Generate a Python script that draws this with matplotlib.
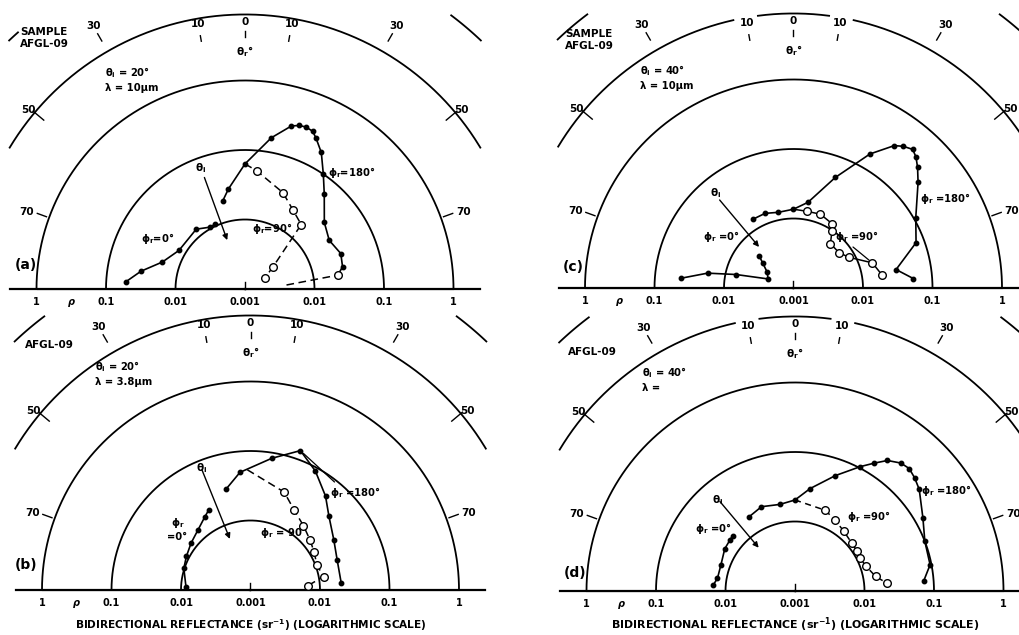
import numpy as np
import matplotlib
matplotlib.use("Agg")
import matplotlib.pyplot as plt

plt.rcParams['font.family'] = ['DejaVu Sans']
plt.rcParams['font.weight'] = 'bold'
plt.rcParams['mathtext.fontset'] = 'dejavusans'
plt.rcParams['mathtext.default'] = 'bf'

# ---------------- data (theta_r in degrees, left side = phi_r 0 ; rho in sr^-1) ----------------
ANGLE_TICKS = [-70, -50, -30, -10, 0, 10, 30, 50, 70]
ANGLE_LABELS = ['70', '50', '30', '10', '0', '10', '30', '50', '70']
RING_VALUES = [0.01, 0.1, 1.0]
SCALE_LABELS = ['1', '0.1', '0.01', '0.001', '0.01', '0.1', '1']
SCALE_SIDES = [-90, -90, -90, 0, 90, 90, 90]
SCALE_VALUES = [1.0, 0.1, 0.01, 0.001, 0.01, 0.1, 1.0]

INCIDENT_ANGLE = {'a': 20, 'b': 20, 'c': 40, 'd': 40}
WAVELENGTH = {'a': '10\u03bcm', 'b': '3.8\u03bcm', 'c': '10\u03bcm', 'd': ''}

# panel (a)
A_PHI0_THETA = [-86.5, -80.3, -71.9, -59.7, -39.2, -29.3, -24.5]
A_PHI0_RHO = [0.052, 0.033, 0.0178, 0.0126, 0.0129, 0.0105, 0.0107]
A_PHI180_THETA = [-14.1, -9.4, 0, 9.9, 15.9, 18.4, 20.7, 23.2, 25.2, 29.2, 34.3, 39.9, 50, 60, 69.7, 77.2, 81.5]
A_PHI180_RHO = [0.0204, 0.0288, 0.0631, 0.162, 0.275, 0.302, 0.309, 0.295, 0.251, 0.178, 0.100, 0.060,
                0.0309, 0.0251, 0.0295, 0.0275, 0.0224]
A_PHI90_THETA = [0, 5.6, 21.5, 31.2, 41.1, 51.8, 60.5]
A_PHI90_RHO = [0.0631, 0.0513, 0.0309, 0.0214, 0.0170, 0.00324, 0.00214]
A_PHI90_TAIL_THETA = [84.5, 81.5]
A_PHI90_TAIL_RHO = [0.00398, 0.0224]
A_ARROW_THETA = -20
A_ARROW_RHO = [0.051, 0.0056]

# panel (b)
B_PHI0_THETA = [-87, -72, -62.4, -51.6, -41, -32, -27.4]
B_PHI0_RHO = [0.00851, 0.0102, 0.0110, 0.0123, 0.0141, 0.0174, 0.0200]
B_PHI180_THETA = [-13.8, -5.1, 9.2, 19.7, 28.6, 38.6, 46.7, 58.9, 70.8, 85.8]
B_PHI180_RHO = [0.0309, 0.0501, 0.0832, 0.135, 0.0891, 0.0537, 0.0355, 0.0251, 0.0209, 0.0204]
B_PHI90_THETA = [-1.5, 19, 28.7, 39.5, 49.6, 58.9, 69.1, 79.6, 85.6]
B_PHI90_RHO = [0.0537, 0.0309, 0.0204, 0.0158, 0.0132, 0.0117, 0.0105, 0.0117, 0.00676]
B_ARROW_THETA = -22
B_ARROW_RHO = [0.072, 0.0062]

# panel (c)
C_PHI0_THETA = [-85.1, -80.2, -76.8, -70.4, -59.2, -50.9, -47.1]
C_PHI0_RHO = [0.0427, 0.0180, 0.00708, 0.00245, 0.00275, 0.00372, 0.00468]
C_PHI180_THETA = [-30.8, -20.9, -11.3, 0, 9.6, 20.7, 29.7, 35.3, 37.8, 40.7, 43.1, 45.8, 49.7, 60.1, 69.7, 79.8, 85.5]
C_PHI180_RHO = [0.0141, 0.0141, 0.0129, 0.0136, 0.0178, 0.0501, 0.166, 0.324, 0.380, 0.427, 0.380, 0.309,
                0.224, 0.107, 0.0759, 0.0316, 0.0537]
C_PHI90_THETA = [0, 10, 20, 30.9, 34, 39.8, 52.1, 60.9, 72.3, 81.8]
C_PHI90_RHO = [0.0136, 0.0132, 0.0135, 0.0120, 0.00977, 0.00676, 0.00676, 0.00813, 0.0155, 0.0195]
C_ARROW_THETA = -40
C_ARROW_RHO = [0.045, 0.0059]

# panel (d)
D_PHI0_THETA = [-85.8, -80.6, -70.5, -59, -51.6, -48.3]
D_PHI0_RHO = [0.0151, 0.0135, 0.0135, 0.0151, 0.0155, 0.0158]
D_PHI180_THETA = [-31.8, -21.7, -9.9, 0, 8.4, 19.3, 27.7, 31.7, 35.3, 39.6, 43, 46.6, 50.7, 60.2, 69.1, 79, 85.4]
D_PHI180_RHO = [0.0180, 0.0202, 0.0184, 0.0204, 0.0309, 0.0575, 0.105, 0.145, 0.200, 0.245, 0.257, 0.234,
                0.204, 0.132, 0.100, 0.0955, 0.0724]
D_PHI90_THETA = [0, 20.6, 29.6, 39.2, 50, 57.5, 63.3, 70.3, 79.8, 85.2]
D_PHI90_RHO = [0.0204, 0.0174, 0.0148, 0.0129, 0.0117, 0.0115, 0.0112, 0.0120, 0.0151, 0.0214]
D_ARROW_THETA = -40
D_ARROW_RHO = [0.048, 0.0065]

SERIES = {
    'a': dict(phi0=(A_PHI0_THETA, A_PHI0_RHO), phi180=(A_PHI180_THETA, A_PHI180_RHO),
              phi90=(A_PHI90_THETA, A_PHI90_RHO), tail=(A_PHI90_TAIL_THETA, A_PHI90_TAIL_RHO),
              arrow=(A_ARROW_THETA, A_ARROW_RHO)),
    'b': dict(phi0=(B_PHI0_THETA, B_PHI0_RHO), phi180=(B_PHI180_THETA, B_PHI180_RHO),
              phi90=(B_PHI90_THETA, B_PHI90_RHO), tail=None, arrow=(B_ARROW_THETA, B_ARROW_RHO)),
    'c': dict(phi0=(C_PHI0_THETA, C_PHI0_RHO), phi180=(C_PHI180_THETA, C_PHI180_RHO),
              phi90=(C_PHI90_THETA, C_PHI90_RHO), tail=None, arrow=(C_ARROW_THETA, C_ARROW_RHO)),
    'd': dict(phi0=(D_PHI0_THETA, D_PHI0_RHO), phi180=(D_PHI180_THETA, D_PHI180_RHO),
              phi90=(D_PHI90_THETA, D_PHI90_RHO), tail=None, arrow=(D_ARROW_THETA, D_ARROW_RHO)),
}

# ---------------- layout / style ----------------
W, H = 1020, 635
S = 69.5            # pixels per decade
CENTERS = {'a': (245, 289), 'b': (250.5, 590), 'c': (793.5, 288), 'd': (795, 591)}
PHI90_STYLE = {'a': (0, (5, 3)), 'b': (0, (5, 3)), 'c': '-', 'd': (0, (4, 3))}
ARC_GAPS = {'a': [], 'b': [], 'c': [(-12.5, -7.5), (7.5, 12.5)], 'd': [(-12.5, -7.5), (7.5, 12.5)]}
FRAGMENTS = {'a': [(-43.5, -41.5), (37, 43.5)], 'b': [(-43.5, -37), (37, 43.5)],
             'c': [(-43.5, -37), (37, 43.5)], 'd': [(-43.5, -37), (37, 43.5)]}
# leader lines: (series key, point index, label-end pixel offset from centre)
LEADERS = {'b': ('phi180', 3, (84, -108)), 'c': ('phi90', 8, (59.5, -41))}
TITLE_SIZE = {'b': 7.6, 'd': 7.9}
TEXTS = {
    'a': dict(head=('SAMPLE\nAFGL-09', -225, -251), cond=(-140, -210), tag=(-219, -24),
              p0=('$\\phi_r$=0°', -87, -51), p90=('$\\phi_r$=90°', 27, -60),
              p180=('$\\phi_r$=180°', 107, -116), ti=(-44, -121)),
    'b': dict(head=('AFGL-09', -225.5, -245), cond=(-155.5, -217), tag=(-224.5, -25),
              p0=('$\\phi_r$\n=0°', -73, -61), p90=('$\\phi_r$ = 90', 30.5, -57),
              p180=('$\\phi_r$ =180°', 104.5, -97), ti=(-48.5, -122)),
    'c': dict(head=('SAMPLE\nAFGL-09', -228.5, -248), cond=(-153.5, -211), tag=(-220.5, -21),
              p0=('$\\phi_r$ =0°', -72.5, -51), p90=('$\\phi_r$ =90°', 63.5, -51),
              p180=('$\\phi_r$ =180°', 151.5, -90), ti=(-77.5, -95)),
    'd': dict(head=('AFGL-09', -227, -239), cond=(-153, -212), tag=(-220, -18),
              p0=('$\\phi_r$ =0°', -82, -63), p90=('$\\phi_r$ =90°', 74, -75),
              p180=('$\\phi_r$ =180°', 151, -100), ti=(-77, -91)),
}
# tick inner/outer radius, label radius (decades from centre), label angle
TICK_GEOM = {0: (3.63, 3.71, 3.84, 0), 10: (3.62, 3.70, 3.87, 10), 30: (4.12, 4.24, 4.37, 30),
             50: (3.78, 3.98, 4.04, 50.5), 70: (3.04, 3.18, 3.33, 70.5)}

fig = plt.figure(figsize=(W / 100, H / 100), dpi=100)


def dec(d):
    return 10 ** (d - 3)


def make_ax(cx, cy):
    R = 3 * S
    # a half-disc polar axes is fitted into a square box: radius = side/2,
    # baseline a quarter side below the box centre
    L = 2 * R
    bottom_down = cy + R / 2
    ax = fig.add_axes([(cx - R) / W, (H - bottom_down) / H, L / W, L / H], projection='polar')
    ax.set_theta_zero_location('N')
    ax.set_theta_direction(-1)
    ax.set_thetamin(-90)
    ax.set_thetamax(90)
    ax.set_rscale('log')
    ax.set_rlim(1e-3, 1)
    ax.grid(False)
    ax.set_xticks([])
    ax.set_yticks([])
    ax.yaxis.set_minor_locator(matplotlib.ticker.NullLocator())
    for sp in ax.spines.values():
        sp.set_visible(False)
    ax.patch.set_visible(False)
    return ax


def ptext(key, dx, dy, s, **kw):
    cx, cy = CENTERS[key]
    fig.text((cx + dx) / W, 1 - (cy + dy) / H, s, **kw)


LW = 1.3
for key in ['a', 'b', 'c', 'd']:
    cx, cy = CENTERS[key]
    ax = make_ax(cx, cy)
    th = np.linspace(-90, 90, 400)
    for rv in RING_VALUES:
        ax.plot(np.deg2rad(th), np.full_like(th, rv), color='k', lw=LW, clip_on=False)
    arc = np.linspace(-59, 59, 500)
    mask = np.ones_like(arc, bool)
    for g0, g1 in ARC_GAPS[key]:
        mask &= ~((arc > g0) & (arc < g1))
    arc_r = np.where(mask, dec(3.95), np.nan)
    ax.plot(np.deg2rad(arc), arc_r, color='k', lw=LW, clip_on=False)
    for a0, a1 in FRAGMENTS[key]:
        fa = np.linspace(a0, a1, 20)
        ax.plot(np.deg2rad(fa), np.full_like(fa, dec(4.93)), color='k', lw=LW, clip_on=False)
    for side in (-90, 90):
        ax.plot(np.deg2rad([side, side]), [1e-3, dec(3.38)], color='k', lw=LW + 0.3, clip_on=False)
    ax.plot([0, 0], [1e-3, dec(0.1)], color='k', lw=1.0, clip_on=False)
    for ang, lab in zip(ANGLE_TICKS, ANGLE_LABELS):
        r0, r1, rl, la = TICK_GEOM[abs(ang)]
        sgn = 1 if ang >= 0 else -1
        ax.plot(np.deg2rad([ang, ang]), [dec(r0), dec(r1)], color='k', lw=1.0, clip_on=False)
        ax.text(np.deg2rad(sgn * la), dec(rl), lab, ha='center', va='center', fontsize=7.5,
                fontweight='bold', clip_on=False)
    ax.text(0, dec(3.41), '$\\theta_r$°', ha='center', va='center', fontsize=7.5, clip_on=False)
    for lab, side, val in zip(SCALE_LABELS, SCALE_SIDES, SCALE_VALUES):
        ax.annotate(lab, xy=(np.deg2rad(side), val), xytext=(0, -9.5), textcoords='offset points',
                    ha='center', va='center', fontsize=7, fontweight='bold', annotation_clip=False)
    ax.annotate('\u03c1', xy=(np.deg2rad(-90), dec(2.5)), xytext=(0, -9.5), textcoords='offset points',
                ha='center', va='center', fontsize=7, fontweight='bold', fontstyle='italic',
                annotation_clip=False)

    ser = SERIES[key]
    t0, r0 = ser['phi0']
    ax.plot(np.deg2rad(t0), r0, color='k', lw=1.2, marker='o', ms=3.2, clip_on=False)
    t1, r1 = ser['phi180']
    ax.plot(np.deg2rad(t1), r1, color='k', lw=1.2, marker='o', ms=3.2, clip_on=False)
    t9, r9 = ser['phi90']
    ax.plot(np.deg2rad(t9), r9, color='k', lw=1.1, ls=PHI90_STYLE[key], marker='o', ms=5.5,
            mfc='white', mec='k', mew=1.0, markevery=list(range(1, len(t9))), clip_on=False)
    if ser['tail'] is not None:
        tt, rt = ser['tail']
        ax.plot(np.deg2rad(tt), rt, color='k', lw=1.1, ls=PHI90_STYLE[key], marker='o', ms=5.5,
                mfc='white', mec='k', mew=1.0, markevery=[1], clip_on=False)
    at, ar = ser['arrow']
    ax.annotate('', xy=(np.deg2rad(at), ar[1]), xytext=(np.deg2rad(at), ar[0]),
                arrowprops=dict(arrowstyle='-|>', color='k', lw=1.0, mutation_scale=8,
                                shrinkA=0, shrinkB=0), annotation_clip=False)
    if key in LEADERS:
        sk, idx, (ldx, ldy) = LEADERS[key]
        lt, lr = ser[sk]
        ax.annotate('', xy=(np.deg2rad(lt[idx]), lr[idx]),
                    xytext=(cx + ldx, H - (cy + ldy)), textcoords='figure pixels',
                    arrowprops=dict(arrowstyle='-', color='k', lw=0.9, shrinkA=0, shrinkB=3),
                    annotation_clip=False)

    tx = TEXTS[key]
    s, dx, dy = tx['head']
    ptext(key, dx, dy, s, ha='left', va='center', fontsize=7.5, linespacing=1.25)
    lam = WAVELENGTH[key]
    cond = '$\\theta_i$ = %d°\n\u03bb = %s' % (INCIDENT_ANGLE[key], lam)
    ptext(key, tx['cond'][0], tx['cond'][1], cond, ha='left', va='center', fontsize=7.2,
          linespacing=1.3)
    ptext(key, tx['tag'][0], tx['tag'][1], '(%s)' % key, ha='center', va='center', fontsize=10)
    for k in ('p0', 'p90', 'p180'):
        s, dx, dy = tx[k]
        ptext(key, dx, dy, s, ha='center', va='center', fontsize=7.2, linespacing=1.3)
    ptext(key, tx['ti'][0], tx['ti'][1], '$\\theta_i$', ha='center', va='center', fontsize=7.5)

for key in ('b', 'd'):
    cx, cy = CENTERS[key]
    fig.text(cx / W, 1 - 625 / H, 'BIDIRECTIONAL REFLECTANCE (sr$^{-1}$) (LOGARITHMIC SCALE)',
             ha='center', va='center', fontsize=TITLE_SIZE[key], fontweight='bold')

fig.savefig('out.png', dpi=100, facecolor='white')
